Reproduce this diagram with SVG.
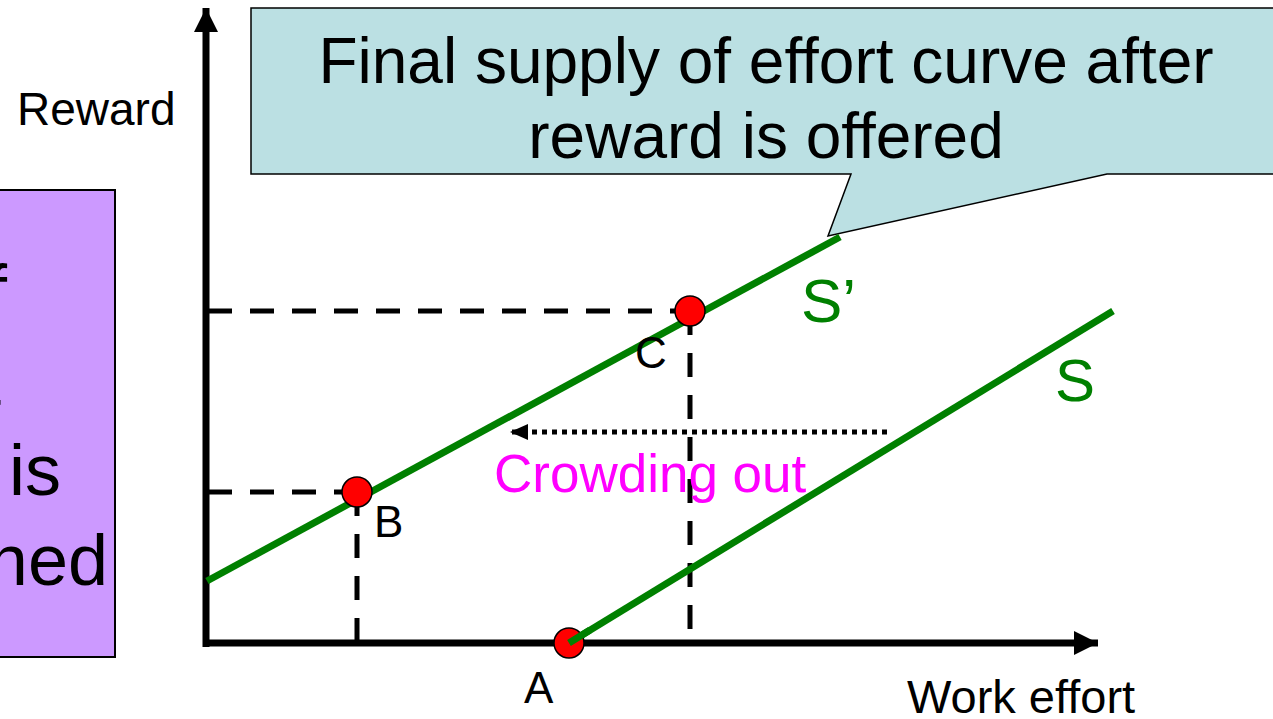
<svg xmlns="http://www.w3.org/2000/svg" width="1273" height="719" viewBox="0 0 1273 719">
<style>
.t{font-family:"Liberation Sans",Arial,sans-serif;fill:#000}
.g{font-family:"Liberation Sans",Arial,sans-serif;fill:#008000}
.dash{stroke:#000;stroke-width:5;stroke-dasharray:24 18;fill:none}
.pt{fill:#FF0000;stroke:#000;stroke-width:1.5}
.sup{stroke:#008000;stroke-width:7;fill:none}
</style>
<defs>
<marker id="ah" markerWidth="24" markerHeight="24" refX="24" refY="12" orient="auto" markerUnits="userSpaceOnUse">
<path d="M0,0 L24,12 L0,24 Z" fill="#000"/>
</marker>
<marker id="ahs" markerWidth="18" markerHeight="16" refX="18" refY="8" orient="auto" markerUnits="userSpaceOnUse">
<path d="M0,0 L18,8 L0,16 Z" fill="#000"/>
</marker>
</defs>
<rect width="1273" height="719" fill="#fff"/>

<g id="note-box">
<rect x="-5" y="190" width="120" height="467" fill="#CC99FF" stroke="#000" stroke-width="2"/>
<text class="t" font-size="72" text-anchor="end" x="7" y="315">f</text>
<text class="t" font-size="72" text-anchor="end" x="1" y="405">t</text>
<text class="t" font-size="72" text-anchor="end" x="61" y="495">is</text>
<text class="t" font-size="72" text-anchor="end" x="108" y="585">ned</text>
</g>

<g id="callout">
<path d="M251,8 H1285 V174 H1107 L828,236 L851,174 H251 Z" fill="#BBE0E3" stroke="#000" stroke-width="1.5"/>
<text class="t" font-size="64" text-anchor="middle" x="766" y="83">Final supply of effort curve after</text>
<text class="t" font-size="64" text-anchor="middle" x="766" y="158">reward is offered</text>
</g>

<g id="axes">
<line x1="206" y1="647" x2="206" y2="8" stroke="#000" stroke-width="7" marker-end="url(#ah)"/>
<line x1="203" y1="643" x2="1098" y2="643" stroke="#000" stroke-width="7" marker-end="url(#ah)"/>
<text class="t" font-size="46" x="17" y="125">Reward</text>
<text class="t" font-size="47" x="907" y="713">Work effort</text>
</g>

<g id="connectors">
<line class="dash" x1="208" y1="311" x2="690" y2="311"/>
<line class="dash" x1="690" y1="311" x2="690" y2="643"/>
<line class="dash" x1="208" y1="492" x2="357" y2="492"/>
<line class="dash" x1="357" y1="492" x2="357" y2="643"/>
<line x1="887" y1="432" x2="510" y2="432" stroke="#000" stroke-width="5" stroke-dasharray="5 5" marker-end="url(#ahs)"/>
</g>

<g id="curve-S-prime">
<line class="sup" x1="207" y1="581" x2="840" y2="237"/>
<text class="g" font-size="62" x="801" y="322">S’</text>
</g>

<g id="curve-S">
<line class="sup" x1="569" y1="643" x2="1113" y2="311"/>
<text class="g" font-size="60" x="1055" y="401">S</text>
</g>

<g id="point-A">
<circle class="pt" cx="569" cy="643" r="15"/>
<line class="sup" x1="569" y1="643" x2="590" y2="630"/>
<text class="t" font-size="44" x="524" y="703">A</text>
</g>

<g id="point-B">
<circle class="pt" cx="357" cy="492" r="15"/>
<text class="t" font-size="44" x="374" y="537">B</text>
</g>

<g id="point-C">
<circle class="pt" cx="690" cy="311" r="15"/>
<text class="t" font-size="44" x="635" y="368">C</text>
</g>

<g id="label-crowding">
<text font-family="Liberation Sans, Arial, sans-serif" font-size="53" fill="#FF00FF" x="494" y="492">Crowding out</text>
</g>
</svg>
